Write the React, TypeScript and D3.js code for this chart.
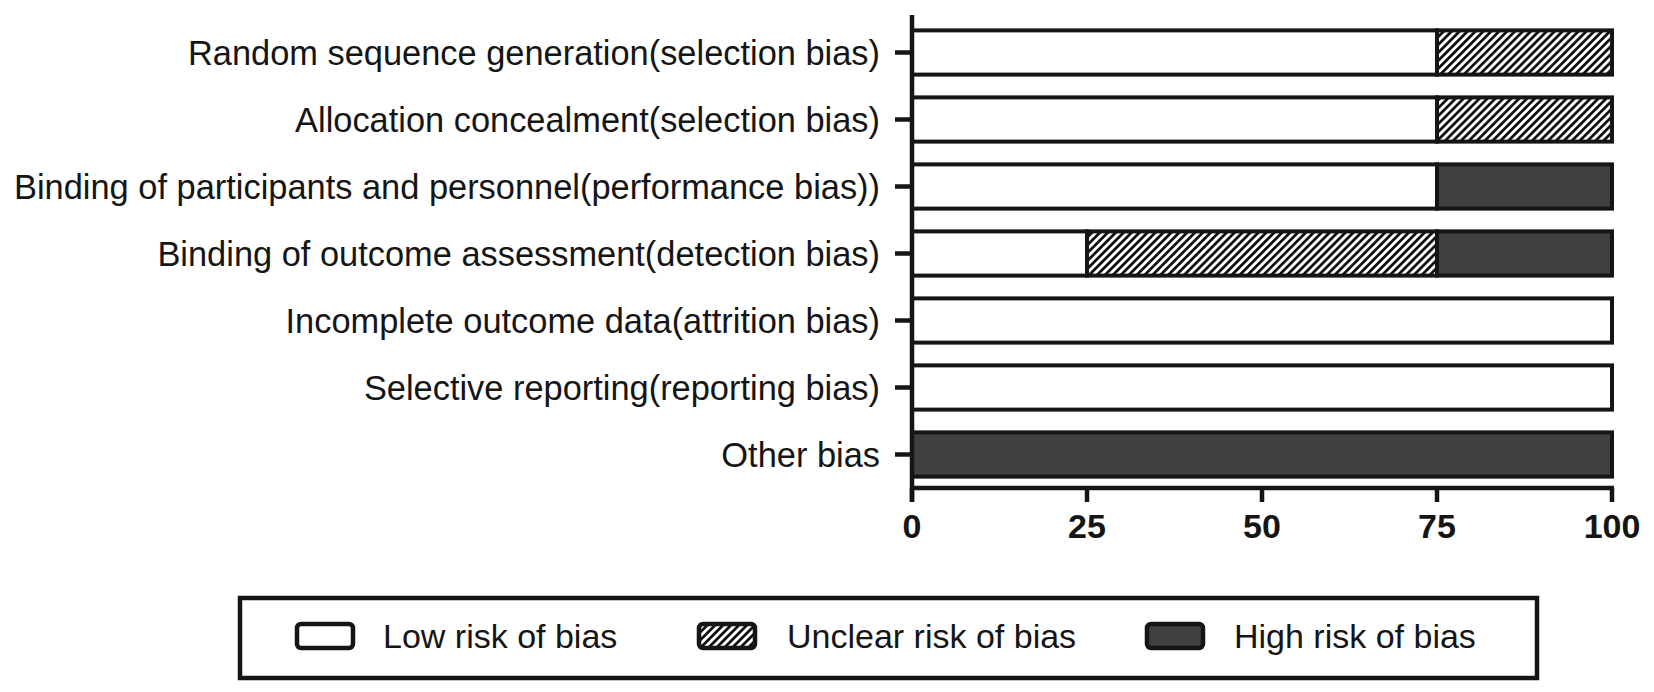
import * as React from "react";
import * as d3 from "d3";

const domains: string[] = [
  "Random sequence generation(selection bias)",
  "Allocation concealment(selection bias)",
  "Binding of participants and personnel(performance bias))",
  "Binding of outcome assessment(detection bias)",
  "Incomplete outcome data(attrition bias)",
  "Selective reporting(reporting bias)",
  "Other bias",
];
const lowRisk: number[] = [75, 75, 75, 25, 100, 100, 0];
const unclearRisk: number[] = [25, 25, 0, 50, 0, 0, 0];
const highRisk: number[] = [0, 0, 25, 25, 0, 0, 100];
const xTicks: number[] = [0, 25, 50, 75, 100];
const legendLabels: string[] = ["Low risk of bias", "Unclear risk of bias", "High risk of bias"];

const W = 1654;
const H = 692;
const FONT = "'Liberation Sans', Arial, sans-serif";
const INK = "#151515";
const DARK = "#404040";
const fills: string[] = ["#ffffff", "url(#hatch)", DARK];

type Seg = { row: number; k: number; x0: number; x1: number };

export default function App(): JSX.Element {
  const plot = { left: 912, right: 1612, top: 19, bottom: 488 };
  const x = d3.scaleLinear().domain([0, 100]).range([plot.left, plot.right]);
  const y = d3.scaleBand<string>().domain(domains).range([plot.top, plot.bottom])
    .paddingInner(0.34).paddingOuter(0.17);
  const axisY = plot.bottom;

  // stack the three risk levels per domain
  const stack: number[][] = domains.map((_, i) => [lowRisk[i], unclearRisk[i], highRisk[i]]);
  const segs: Seg[] = [];
  stack.forEach((vals, row) => {
    let acc = 0;
    vals.forEach((v, k) => {
      if (v > 0) segs.push({ row, k, x0: acc, x1: acc + v });
      acc += v;
    });
  });

  const legendX = [297, 699, 1147];
  const legendTextX = [383, 787, 1234];
  const legendCy = 636;

  return (
    <svg width={W} height={H} style={{ position: "absolute", left: 0, top: 0, background: "#fff" }}>
      <defs>
        <pattern id="hatch" patternUnits="userSpaceOnUse" width={5.6} height={5.6} patternTransform="rotate(45)">
          <rect width={5.6} height={5.6} fill="#fff" />
          <line x1={1.4} y1={0} x2={1.4} y2={5.6} stroke="#000" strokeWidth={2.6} />
        </pattern>
      </defs>

      {segs.map((s, i) => (
        <rect key={i} x={x(s.x0)} y={y(domains[s.row])} width={x(s.x1) - x(s.x0)} height={y.bandwidth()}
          fill={fills[s.k]} stroke={INK} strokeWidth={4} />
      ))}

      {/* y axis */}
      <line x1={plot.left} x2={plot.left} y1={15} y2={axisY + 14} stroke={INK} strokeWidth={4.5} />
      {domains.map((d) => {
        const cy = (y(d) as number) + y.bandwidth() / 2;
        return (
          <g key={d}>
            <line x1={plot.left - 17} x2={plot.left} y1={cy} y2={cy} stroke={INK} strokeWidth={4.5} />
            <text x={880} y={cy} textAnchor="end" dominantBaseline="central" fontFamily={FONT}
              fontSize={34.4} fill={INK}>{d}</text>
          </g>
        );
      })}

      {/* x axis */}
      <line x1={plot.left - 2} x2={x(100) + 2} y1={axisY} y2={axisY} stroke={INK} strokeWidth={4.5} />
      {xTicks.map((t) => (
        <g key={t}>
          <line x1={x(t)} x2={x(t)} y1={axisY} y2={axisY + 14} stroke={INK} strokeWidth={4.5} />
          <text x={x(t)} y={axisY + 38} textAnchor="middle" dominantBaseline="central" fontFamily={FONT}
            fontWeight="bold" fontSize={34} fill={INK}>{t}</text>
        </g>
      ))}

      {/* legend */}
      <rect x={240} y={598} width={1297} height={80} fill="#fff" stroke={INK} strokeWidth={4.5} />
      {legendLabels.map((l, i) => (
        <g key={l}>
          <rect x={legendX[i]} y={legendCy - 12} width={56} height={24} rx={4} fill={fills[i]} stroke={INK} strokeWidth={4.5} />
          <text x={legendTextX[i]} y={legendCy} dominantBaseline="central" fontFamily={FONT} fontSize={34} fill={INK}>{l}</text>
        </g>
      ))}
    </svg>
  );
}
